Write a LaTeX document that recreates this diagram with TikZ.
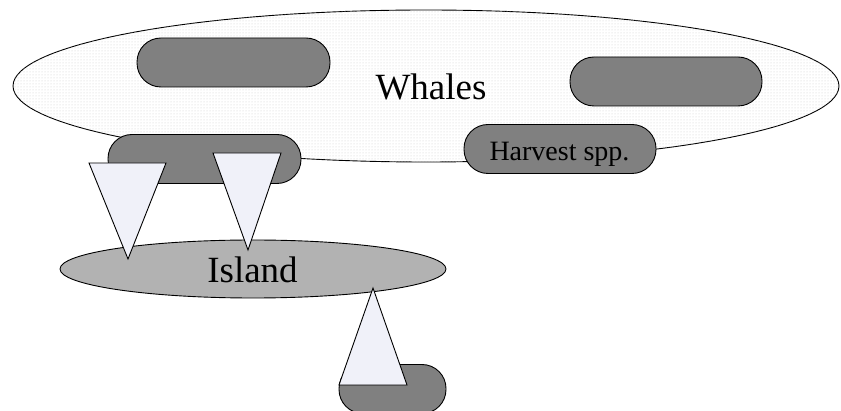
\documentclass[tikz,border=0pt]{standalone}
\usepackage{fontspec}
\setmainfont{Liberation Serif}
\usetikzlibrary{patterns}
\definecolor{pillgray}{HTML}{808080}
\definecolor{islandgray}{HTML}{B2B2B2}
\definecolor{trifill}{HTML}{F0F1F9}
\tikzset{
  outline/.style={draw=black, line width=0.9pt},
  pill/.style={outline, fill=pillgray, rectangle, rounded corners=24pt, inner sep=0pt, minimum height=49pt},
  tri/.style={outline, fill=trifill, line join=miter},
  bigtext/.style={font=\fontsize{37}{40}\selectfont, inner sep=0pt, anchor=base},
  smalltext/.style={font=\fontsize{28}{31}\selectfont, inner sep=0pt, anchor=base},
}
\begin{document}
\begin{tikzpicture}[x=1pt, y=-1pt]
\useasboundingbox (0,0) rectangle (841,411);
% Whales ellipse
\draw[outline, fill=white, postaction={pattern=dots, pattern color=gray!40}] (426,86) ellipse [x radius=413, y radius=76];
\node[pill, minimum width=193pt] (p1) at (233.5,62.5) {};
\node[pill, minimum width=192pt] (p2) at (666,81.5) {};
\node[bigtext] (whales) at (431,100) {Whales};
\node[pill, minimum width=193pt] (p3) at (204.5,159) {};
\node[pill, minimum width=192pt] (p4) at (560,149) {};
\node[smalltext] (harvest) at (559.5,160.5) {Harvest spp.};
% Island ellipse
\draw[outline, fill=islandgray] (253,269) ellipse [x radius=193, y radius=29];
\node[bigtext] (island) at (252.5,283) {Island};
% bottom pill
\node[pill, minimum width=107pt] (p5) at (392.5,389) {};
% triangles
\coordinate (t1a) at (89,163); \coordinate (t1b) at (166,163); \coordinate (t1c) at (128,259);
\coordinate (t2a) at (213,153); \coordinate (t2b) at (281,153); \coordinate (t2c) at (248,250);
\coordinate (t3a) at (339,385); \coordinate (t3b) at (407,385); \coordinate (t3c) at (373,288);
\draw[tri] (t1a) -- (t1b) -- (t1c) -- cycle;
\draw[tri] (t2a) -- (t2b) -- (t2c) -- cycle;
\draw[tri] (t3a) -- (t3b) -- (t3c) -- cycle;
\end{tikzpicture}
\end{document}
